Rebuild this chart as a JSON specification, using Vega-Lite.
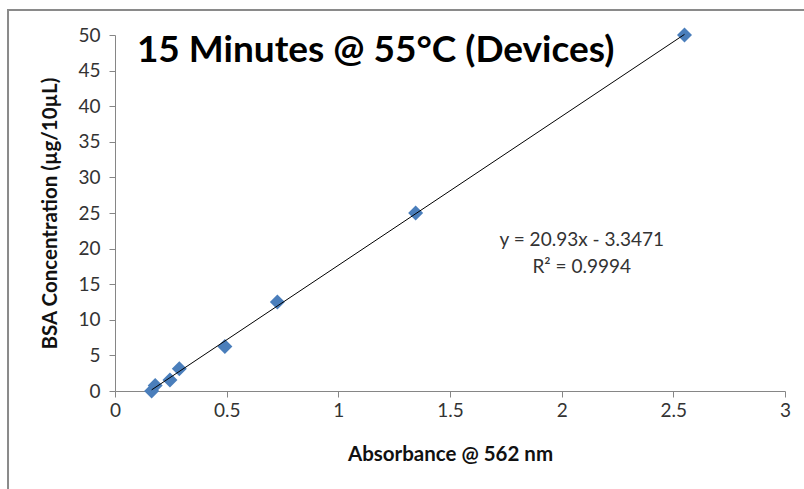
{
  "$schema": "https://vega.github.io/schema/vega-lite/v6.json",
  "width": 670,
  "height": 356,
  "autosize": {"type": "none"},
  "padding": {"left": 115, "top": 35, "right": 19, "bottom": 98},
  "background": "white",
  "config": {"view": {"stroke": null}, "font": "Lato"},
  "data": {"values": [
    {"abs": 0.164, "conc": 0},
    {"abs": 0.180, "conc": 0.78},
    {"abs": 0.246, "conc": 1.5625},
    {"abs": 0.288, "conc": 3.125},
    {"abs": 0.492, "conc": 6.25},
    {"abs": 0.727, "conc": 12.5},
    {"abs": 1.346, "conc": 25},
    {"abs": 2.550, "conc": 50}
  ]},
  "encoding": {
    "x": {
      "field": "abs", "type": "quantitative",
      "scale": {"domain": [0, 3], "nice": false, "zero": false},
      "axis": {
        "title": "Absorbance @ 562 nm", "tickCount": 7, "format": "~g",
        "labelFlush": false, "labelOverlap": false,
        "grid": false, "domainColor": "#868686", "tickColor": "#868686", "tickSize": 6,
        "labelFontSize": 19, "labelColor": "#333333", "labelPadding": 4, "labelFont": "Lato",
        "titleFontSize": 20.5, "titleFontWeight": "bold", "titleColor": "#111111", "titlePadding": 24, "titleFont": "Lato"
      }
    },
    "y": {
      "field": "conc", "type": "quantitative",
      "scale": {"domain": [0, 50], "nice": false},
      "axis": {
        "title": "BSA Concentration (µg/10µL)", "tickCount": 11,
        "labelFlush": false, "labelOverlap": false,
        "grid": false, "domainColor": "#868686", "tickColor": "#868686", "tickSize": 6,
        "labelFontSize": 19, "labelColor": "#333333", "labelPadding": 9, "labelFont": "Lato",
        "titleFontSize": 20.5, "titleFontWeight": "bold", "titleColor": "#111111", "titlePadding": 17, "titleFont": "Lato"
      }
    }
  },
  "layer": [
    {
      "mark": {"type": "point", "shape": "diamond", "filled": true, "size": 225, "color": "#4a7ebb", "opacity": 1}
    },
    {
      "transform": [{"regression": "conc", "on": "abs", "method": "linear"}],
      "mark": {"type": "line", "color": "#000000", "strokeWidth": 1}
    },
    {
      "data": {"values": [{"x1": -0.479, "x2": 3.6, "y1": 53.5, "y2": -20}]},
      "mark": {"type": "rect", "fill": null, "stroke": "#8a8a8a", "strokeWidth": 2, "clip": false},
      "encoding": {
        "x": {"field": "x1", "type": "quantitative"},
        "x2": {"field": "x2"},
        "y": {"field": "y1", "type": "quantitative"},
        "y2": {"field": "y2"}
      }
    },
    {
      "data": {"values": [
        {"tx": 0.098, "ty": 47.7, "label": "15 Minutes @ 55°C (Devices)"}
      ]},
      "mark": {"type": "text", "align": "left", "baseline": "middle", "fontSize": 37, "fontWeight": "bold", "font": "Lato", "color": "#000000"},
      "encoding": {
        "x": {"field": "tx", "type": "quantitative"},
        "y": {"field": "ty", "type": "quantitative"},
        "text": {"field": "label"}
      }
    },
    {
      "data": {"values": [
        {"tx": 2.09, "ty": 21.2, "label": "y = 20.93x - 3.3471"},
        {"tx": 2.09, "ty": 17.4, "label": "R² = 0.9994"}
      ]},
      "mark": {"type": "text", "align": "center", "baseline": "middle", "fontSize": 19, "fontWeight": "normal", "font": "Lato", "color": "#333333"},
      "encoding": {
        "x": {"field": "tx", "type": "quantitative"},
        "y": {"field": "ty", "type": "quantitative"},
        "text": {"field": "label"}
      }
    }
  ]
}
